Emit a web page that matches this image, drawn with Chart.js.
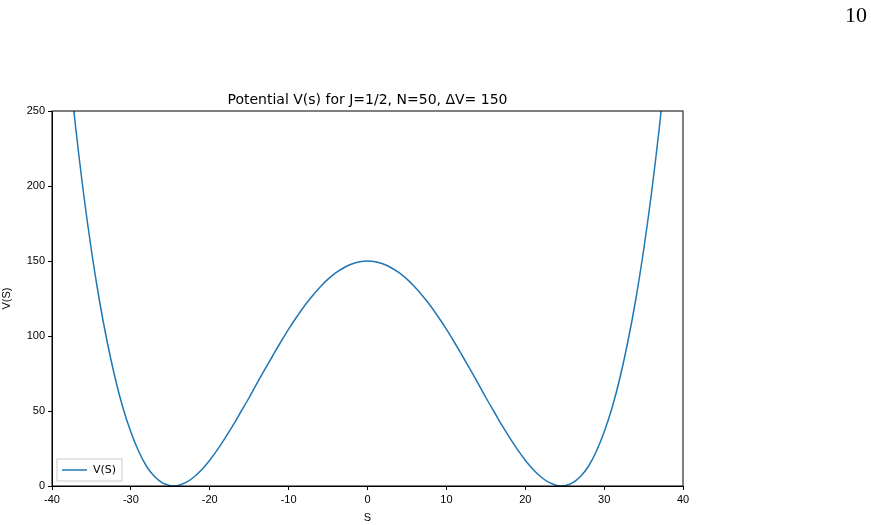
<!DOCTYPE html>
<html><head><meta charset="utf-8">
<script src="https://cdn.jsdelivr.net/npm/chart.js@4"></script>
<style>body{margin:0;background:#fff}#pg{position:absolute;left:845px;top:2px;font:22px "Liberation Serif",serif}</style>
</head><body>
<div id="pg">10</div>
<div style="width:871px;height:525px"><canvas id="c"></canvas></div>
<script>
// readings from the picture, left half mirrored
const sHalf = [0,1,2,3,4,5,6,7,8,9,10,11,12,13,14,15,16,17,18,19,20,21,22,23,24,24.6,25,26,27,28,29,30,31,32,33,34,35,36,37,38];
const vHalf = [150,149.5,148,145.5,142.2,137.9,132.7,126.7,120,112.5,104.6,96,87,77.9,68.6,59,50,40.9,32.4,24.4,17.2,11,6,2.4,0.35,0,0.2,2.1,6.3,13,23,36,52,72,96,124,157,195,239,288];
const sVals = sHalf.slice(1).map(s => -s).reverse().concat(sHalf);
const vVals = vHalf.slice(1).reverse().concat(vHalf);
const pts = sVals.map((s, i) => ({x: s, y: vVals[i]}));

const frame = {
  id: 'frame',
  afterDraw(ch) {
    const a = ch.chartArea, c = ch.ctx;
    c.save();
    c.strokeStyle = '#000'; c.lineWidth = 1;
    c.strokeRect(a.left, a.top, a.right - a.left, a.bottom - a.top);
    c.fillStyle = '#000'; c.font = '14px "DejaVu Sans"'; c.textAlign = 'center';
    c.fillText('Potential V(s) for J=1/2, N=50, \u0394V= 150', (a.left + a.right) / 2, a.top - 7);
    // legend
    const lx = a.left + 5, ly = a.bottom - 27;
    c.strokeStyle = '#ccc'; c.fillStyle = '#fff';
    c.fillRect(lx, ly, 65, 22); c.strokeRect(lx, ly, 65, 22);
    c.strokeStyle = '#1f77b4'; c.lineWidth = 1.5;
    c.beginPath(); c.moveTo(lx + 5, ly + 11); c.lineTo(lx + 30, ly + 11); c.stroke();
    c.fillStyle = '#000'; c.font = '11px "DejaVu Sans"'; c.textAlign = 'left'; c.textBaseline = 'middle';
    c.fillText('V(S)', lx + 36, ly + 11);
    c.restore();
  }
};

new Chart(document.getElementById('c'), {
  type: 'scatter',
  data: {datasets: [{label: 'V(S)', data: pts, showLine: true, borderColor: '#1f77b4', borderWidth: 1.5, pointRadius: 0, tension: 0.3}]},
  options: {
    responsive: true, maintainAspectRatio: false, animation: false,
    layout: {padding: {top: 111, right: 188, left: 0, bottom: 0}},
    plugins: {legend: {display: false}, tooltip: {enabled: false}},
    scales: {
      x: {min: -40, max: 40, ticks: {stepSize: 10, color: '#000', font: {size: 11}},
          grid: {drawOnChartArea: false, tickLength: 4, color: '#000'}, border: {color: '#000'},
          title: {display: true, text: 'S', color: '#000', font: {size: 11}, padding: 0},
          afterFit: s => { s.height = 39; }},
      y: {min: 0, max: 250, ticks: {stepSize: 50, color: '#000', font: {size: 11}},
          grid: {drawOnChartArea: false, tickLength: 4, color: '#000'}, border: {color: '#000'},
          title: {display: true, text: 'V(S)', color: '#000', font: {size: 11}, padding: 0},
          afterFit: s => { s.width = 52; }}
    }
  },
  plugins: [frame]
});
</script>
</body></html>
